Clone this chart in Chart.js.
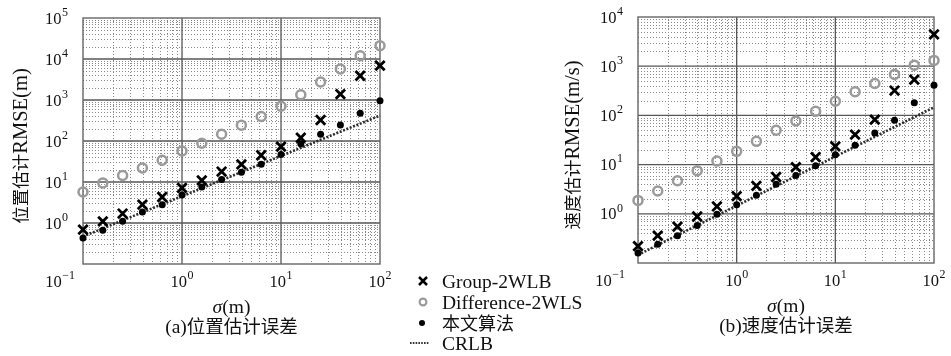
<!DOCTYPE html>
<html>
<head>
<meta charset="utf-8">
<script src="https://cdn.jsdelivr.net/npm/chart.js@4.4.1/dist/chart.umd.min.js"></script>
<style>
  html, body { margin: 0; padding: 0; background: #fff; }
  #wrap { position: relative; width: 951px; height: 356px; overflow: hidden; }
  #wrap canvas { position: absolute; left: 0; top: 0; }
</style>
</head>
<body>
<div id="wrap">
  <canvas id="posChart" width="951" height="356"></canvas>
  <canvas id="velChart" width="951" height="356"></canvas>
</div>
<script>
// noise standard deviation sigma (m)
const sigma = [0.1, 0.1585, 0.2512, 0.3981, 0.631, 1, 1.585, 2.512, 3.981, 6.31, 10, 15.85, 25.12, 39.81, 63.1, 100];

// (a) position estimation RMSE (m)
const posGroup    = [0.69, 1.1, 1.7, 2.8, 4.3, 7.2, 11, 18, 27, 45, 73, 120, 325, 1390, 3900, 6900];
const posDiff     = [5.7, 9.5, 14.4, 22, 34, 57, 88, 146, 242, 395, 705, 1340, 2750, 5700, 12000, 21000];
const posProposed = [0.43, 0.67, 1.1, 1.86, 2.8, 4.8, 7.6, 11.5, 17.4, 27, 47, 86, 146, 246, 478, 960];
const posCRLB     = [0.468, 0.736, 1.157, 1.82, 2.86, 4.5, 7.08, 11.1, 17.5, 27.5, 43.3, 68.1, 107, 169, 265, 417];

// (b) velocity estimation RMSE (m/s)
const velGroup    = [0.22, 0.36, 0.55, 0.88, 1.41, 2.29, 3.7, 5.6, 8.9, 14.2, 23.5, 40.7, 82, 320, 535, 4440];
const velDiff     = [1.87, 2.9, 4.7, 7.5, 11.8, 18.6, 29.7, 50, 77, 121, 194, 302, 445, 680, 1050, 1310];
const velProposed = [0.16, 0.24, 0.36, 0.58, 0.98, 1.52, 2.37, 4.0, 6.0, 9.5, 15.9, 24.6, 44, 80, 180, 410];
const velCRLB     = [0.146, 0.232, 0.367, 0.582, 0.923, 1.46, 2.32, 3.67, 5.82, 9.23, 14.6, 23.2, 36.7, 58.2, 92.3, 146];

// series names and tick exponents
const seriesNames = ['Group-2WLB', 'Difference-2WLS', '本文算法', 'CRLB'];
const xTickExps  = [-1, 0, 1, 2];
const posYExps   = [0, 1, 2, 3, 4, 5];
const velYExps   = [0, 1, 2, 3, 4];

const LAT = n => n + 'px "Liberation Serif", serif';
const LATI = n => 'italic ' + n + 'px "Liberation Serif", serif';
const CJK = n => n + 'px "Noto Sans CJK SC", sans-serif';
const INK = '#111';

function pts(vals) { return sigma.map((s, i) => ({ x: s, y: vals[i] })); }

function datasets(group, diff, prop, crlb) {
  return [
    { label: seriesNames[0], data: pts(group), pointStyle: 'crossRot', pointRadius: 6.6,
      borderColor: '#000', backgroundColor: '#000', pointBorderWidth: 2.8, showLine: false, clip: false, order: 1 },
    { label: seriesNames[1], data: pts(diff), pointStyle: 'circle', pointRadius: 4.5,
      borderColor: '#9a9a9a', backgroundColor: 'rgba(0,0,0,0)', pointBorderWidth: 2.5, showLine: false, clip: false, order: 3 },
    { label: seriesNames[2], data: pts(prop), pointStyle: 'circle', pointRadius: 3.5,
      borderColor: '#000', backgroundColor: '#000', pointBorderWidth: 0, showLine: false, clip: false, order: 2 },
    { label: seriesNames[3], data: pts(crlb), type: 'line', pointRadius: 0, borderColor: '#2e2e2e',
      borderWidth: 2.6, borderDash: [2, 1.6], fill: false, clip: false, order: 4 }
  ];
}

// text made of runs in different fonts, on one baseline
function drawRuns(ctx, runs, x, y, align) {
  let total = 0;
  runs.forEach(r => { ctx.font = r.f; r.w = ctx.measureText(r.t).width; total += r.w; });
  let cx = align === 'center' ? x - total / 2 : align === 'right' ? x - total : x;
  ctx.textAlign = 'left';
  ctx.textBaseline = 'alphabetic';
  runs.forEach(r => { ctx.font = r.f; ctx.fillText(r.t, cx, y); cx += r.w; });
}

// "10" with a raised exponent, base digits centred on y
function drawPow(ctx, exp, x, y, align) {
  const base = '10', sup = exp < 0 ? '\u2212' + (-exp) : String(exp);
  ctx.font = LAT(16.5);
  const wb = ctx.measureText(base).width;
  ctx.font = LAT(12);
  const ws = ctx.measureText(sup).width;
  const total = wb + 0.5 + ws;
  let x0 = x;
  if (align === 'center') x0 = x - total / 2;
  else if (align === 'right') x0 = x - total;
  ctx.textAlign = 'left';
  ctx.textBaseline = 'alphabetic';
  ctx.font = LAT(16.5);
  ctx.fillText(base, x0, y + 5.6);
  ctx.font = LAT(12);
  ctx.fillText(sup, x0 + wb + 0.5, y - 2.2);
}

const logFrame = {
  id: 'logFrame',
  beforeDatasetsDraw(chart, args, o) {
    const { ctx, chartArea: a, scales: { x, y } } = chart;
    ctx.save();
    ctx.lineWidth = 1;
    // minor grid: 2..9 within each decade
    ctx.strokeStyle = '#8a8a8a';
    ctx.setLineDash([1, 2]);
    const minorX = [], minorY = [];
    for (let d = -1; d < 2; d++) for (let k = 2; k <= 9; k++) minorX.push(k * Math.pow(10, d));
    for (let d = o.yLo; d < o.yHi; d++) for (let k = 2; k <= 9; k++) minorY.push(k * Math.pow(10, d));
    ctx.beginPath();
    minorX.forEach(v => { const p = Math.round(x.getPixelForValue(v)) + 0.5; ctx.moveTo(p, a.top); ctx.lineTo(p, a.bottom); });
    minorY.forEach(v => { const p = Math.round(y.getPixelForValue(v)) + 0.5; ctx.moveTo(a.left, p); ctx.lineTo(a.right, p); });
    ctx.stroke();
    // major grid at decades
    ctx.setLineDash([]);
    ctx.strokeStyle = '#575757';
    ctx.lineWidth = 1.3;
    ctx.beginPath();
    for (let d = 0; d < 2; d++) { const p = x.getPixelForValue(Math.pow(10, d)); ctx.moveTo(p, a.top); ctx.lineTo(p, a.bottom); }
    for (let d = o.yLo + 1; d < o.yHi; d++) { const p = y.getPixelForValue(Math.pow(10, d)); ctx.moveTo(a.left, p); ctx.lineTo(a.right, p); }
    ctx.stroke();
    // frame
    ctx.strokeStyle = '#666';
    ctx.lineWidth = 1.4;
    ctx.strokeRect(a.left, a.top, a.width, a.height);
    ctx.restore();
  },
  afterDraw(chart, args, o) {
    const { ctx, chartArea: a, scales: { x, y } } = chart;
    ctx.save();
    ctx.fillStyle = INK;
    // y tick labels
    o.yExps.forEach(e => drawPow(ctx, e, a.left - 15, y.getPixelForValue(Math.pow(10, e)), 'right'));
    // x tick labels (the first one sits left of the corner)
    xTickExps.forEach((e, i) => {
      const px = x.getPixelForValue(Math.pow(10, e));
      if (i === 0) drawPow(ctx, e, px - o.firstShift, a.bottom + 17, 'right');
      else drawPow(ctx, e, px, a.bottom + 17, 'center');
    });
    // x title and caption
    const cx = (a.left + a.right) / 2;
    drawRuns(ctx, [{ t: '\u03c3', f: LATI(19.5) }, { t: '(m)', f: LAT(19.5) }], cx, a.bottom + 49, 'center');
    drawRuns(ctx, [{ t: o.captionTag, f: LAT(19.5) }, { t: o.captionText, f: CJK(18.5) }], cx, a.bottom + 69, 'center');
    // y title (rotated)
    ctx.save();
    ctx.translate(o.yTitleX, (a.top + a.bottom) / 2 + 5);
    ctx.rotate(-Math.PI / 2);
    drawRuns(ctx, [{ t: o.yTitleCJK, f: CJK(17.5) }, { t: o.yTitleLat, f: LAT(20.5) }], 0, 0, 'center');
    ctx.restore();
    // shared legend
    if (o.legend) {
      const lx = 423, rows = [281, 302, 323, 343], tx = 442;
      ctx.lineCap = 'butt';
      ctx.strokeStyle = '#000'; ctx.lineWidth = 2.5;
      ctx.beginPath();
      ctx.moveTo(lx - 4, rows[0] - 4); ctx.lineTo(lx + 4, rows[0] + 4);
      ctx.moveTo(lx + 4, rows[0] - 4); ctx.lineTo(lx - 4, rows[0] + 4);
      ctx.stroke();
      ctx.strokeStyle = '#9a9a9a'; ctx.lineWidth = 2.1;
      ctx.beginPath(); ctx.arc(lx, rows[1], 3.4, 0, Math.PI * 2); ctx.stroke();
      ctx.fillStyle = '#000';
      ctx.beginPath(); ctx.arc(lx - 1, rows[2], 3, 0, Math.PI * 2); ctx.fill();
      ctx.strokeStyle = '#333'; ctx.lineWidth = 2.2; ctx.setLineDash([1.6, 1.2]);
      ctx.beginPath(); ctx.moveTo(410, rows[3]); ctx.lineTo(429, rows[3]); ctx.stroke();
      ctx.setLineDash([]);
      ctx.fillStyle = INK;
      const fonts = [LAT(19.5), LAT(19.5), CJK(18), LAT(19.5)];
      seriesNames.forEach((n, i) => drawRuns(ctx, [{ t: n, f: fonts[i] }], tx, rows[i] + 6.5, 'left'));
    }
    ctx.restore();
  }
};

function buildChart(id, pad, yMin, yMax, ds, frameOpts) {
  return new Chart(document.getElementById(id), {
    type: 'scatter',
    data: { datasets: ds },
    options: {
      responsive: false,
      animation: false,
      events: [],
      layout: { padding: pad },
      scales: {
        x: { type: 'logarithmic', min: 0.1, max: 100, display: false },
        y: { type: 'logarithmic', min: yMin, max: yMax, display: false }
      },
      plugins: { legend: { display: false }, tooltip: { enabled: false }, logFrame: frameOpts }
    },
    plugins: [logFrame]
  });
}

buildChart('posChart', { left: 83, right: 951 - 380, top: 18, bottom: 356 - 264 }, 0.1, 1e5,
  datasets(posGroup, posDiff, posProposed, posCRLB),
  { yLo: -1, yHi: 5, yExps: posYExps, captionTag: '(a)', captionText: '位置估计误差',
    yTitleCJK: '位置估计', yTitleLat: 'RMSE(m)', yTitleX: 27, firstShift: 8, legend: true });

buildChart('velChart', { left: 638, right: 951 - 934, top: 17, bottom: 356 - 263 }, 0.1, 1e4,
  datasets(velGroup, velDiff, velProposed, velCRLB),
  { yLo: -1, yHi: 4, yExps: velYExps, captionTag: '(b)', captionText: '速度估计误差',
    yTitleCJK: '速度估计', yTitleLat: 'RMSE(m/s)', yTitleX: 579, firstShift: 13, legend: false });
</script>
</body>
</html>
